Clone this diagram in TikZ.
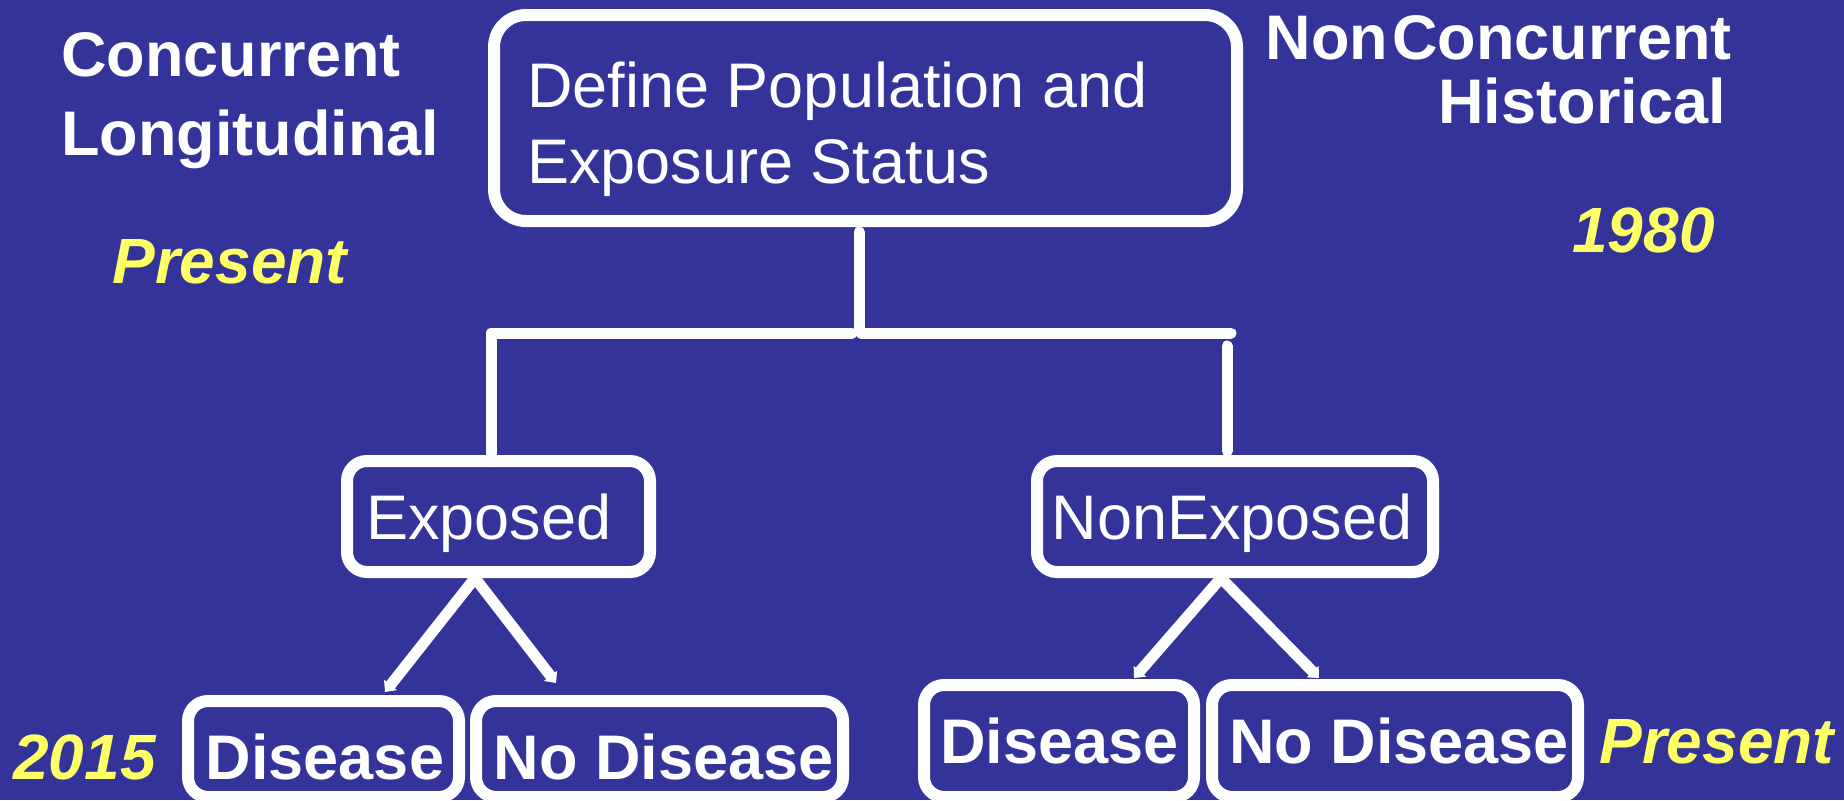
\documentclass[tikz,border=0pt]{standalone}
\usepackage{fontspec}
\setmainfont{Liberation Sans}
\usetikzlibrary{arrows.meta,calc}
\definecolor{bgblue}{RGB}{51,51,153}
\definecolor{yel}{RGB}{255,255,102}
\begin{document}
\begin{tikzpicture}[x=0.5pt,y=-0.5pt,
  box/.style={draw=white,line width=6pt,rounded corners=10pt,inner sep=0pt},
  conn/.style={draw=white,line width=5.5pt,line cap=round,line join=round},
  tipped/.style={conn,-{Triangle[length=4.5pt,width=8pt]}},
  wtxt/.style={text=white,inner sep=0pt,font=\fontsize{31.5}{38}\selectfont},
  btxt/.style={text=white,inner sep=0pt,font=\fontsize{31.5}{38}\selectfont\bfseries},
  ytxt/.style={text=yel,inner sep=0pt,font=\fontsize{32}{38}\selectfont\bfseries\itshape}]
\useasboundingbox (0,0) rectangle (1844,800);
\clip (0,0) rectangle (1844,800);
\fill[bgblue] (0,0) rectangle (1844,800);

% boxes
\node[box,rounded corners=16pt,minimum width=371.5pt,minimum height=103pt] (top) at (865.5,118) {};
\node[box,minimum width=151.5pt,minimum height=55.5pt] (exp) at (498.5,516.5) {};
\node[box,minimum width=198pt,minimum height=55.5pt] (nonexp) at (1235,516.5) {};
\node[box,minimum width=135.5pt,minimum height=48pt] (dis1) at (323.5,749) {};
\node[box,minimum width=183.5pt,minimum height=48pt] (nodis1) at (659.5,749) {};
\node[box,minimum width=135pt,minimum height=56pt] (dis2) at (1059,741) {};
\node[box,minimum width=183pt,minimum height=56pt] (nodis2) at (1395,741) {};

% texts
\node[btxt,anchor=base west] (conc) at (61,76) {Concurrent};
\node[btxt,anchor=base west] (long) at (61,155) {Longitudinal};
\node[ytxt,anchor=base west] (pres1) at (112,283) {Present};
\node[wtxt,anchor=base west] (def1) at (527,107) {Define Population and};
\node[wtxt,anchor=base west] (def2) at (527,183) {Exposure Status};
\node[btxt,anchor=base east] (nonc) at (1732,59) {Non\kern2pt Concurrent};
\node[btxt,anchor=base east] (hist) at (1726,123) {Historical};
\node[ytxt,anchor=base west] (y1980) at (1572,252) {1980};
\node[ytxt,anchor=base west] (y2015) at (13,779) {2015};
\node[ytxt,anchor=base west] (pres2) at (1599,763) {Present};
\node[wtxt,anchor=base] (expt) at (489,539) {Exposed};
\node[wtxt,anchor=base] (nonexpt) at (1232,539) {NonExposed};
\node[btxt,anchor=base] (dis1t) at (325,779) {Disease};
\node[btxt,anchor=base] (nodis1t) at (663.5,779) {No Disease};
\node[btxt,anchor=base] (dis2t) at (1059.5,763) {Disease};
\node[btxt,anchor=base] (nodis2t) at (1399,763) {No Disease};

% connector coordinates
\coordinate (t1) at ($(top.south)+(-6.5,5)$);
\coordinate (t2) at ($(top.south)+(-6.5,103)$);
\coordinate (hl) at (852,333);
\coordinate (hr1) at (861,333);
\coordinate (hr2) at (1231,333);
\coordinate (el) at ($(exp.north)+(-7.5,0)$);
\coordinate (nv1) at ($(nonexp.north)+(-8,-109)$);
\coordinate (nv2) at ($(nonexp.north)+(-8,-4)$);
\coordinate (ea) at ($(exp.south)+(-23.5,0)$);
\coordinate (na) at ($(nonexp.south)+(-14,0)$);
\coordinate (e1) at (385,692);
\coordinate (e2) at (556,683);
\coordinate (n1) at (1134,678);
\coordinate (n2) at (1319,678);

\draw[conn] (t1) -- (t2);
\draw[conn] (hl) -| (el);
\draw[conn] (hr1) -- (hr2);
\draw[conn] (nv1) -- (nv2);
\draw[tipped] (ea) -- (e1);
\draw[tipped] (ea) -- (e2);
\draw[tipped] (na) -- (n1);
\draw[tipped] (na) -- (n2);
\end{tikzpicture}
\end{document}
